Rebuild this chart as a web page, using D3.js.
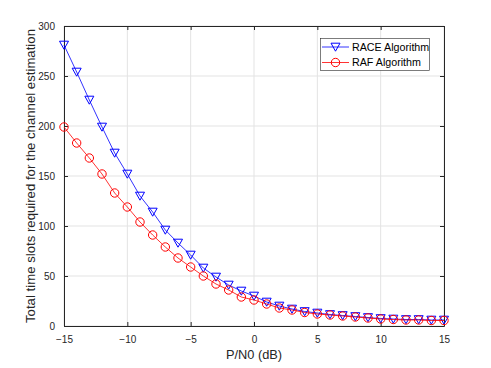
<!DOCTYPE html>
<html><head><meta charset="utf-8">
<script src="https://cdn.jsdelivr.net/npm/d3@7"></script>
<style>body{margin:0;background:#fff;}svg{display:block;font-family:"Liberation Sans",Arial,sans-serif;}</style>
</head><body>
<svg id="c" width="491" height="368"></svg>
<script>
const xValues = d3.range(-15, 16, 1);
const raceValues = [281,254,226,199,173,152,130,114,96,83,71,58,49,41,35,30,24,20,17,14.5,13,11.5,10.5,9.5,8.5,7.5,7,6.5,6.5,6,6];
const rafValues = [199,183,168,152,133,119,104,91,79,68,59,50,42,36,29,26,22,18,16,13.5,12,11,10,9,8,7,6.5,6,6,5.5,5.5];
const xTicks = [-15,-10,-5,0,5,10,15];
const yTicks = [0,50,100,150,200,250,300];
const seriesNames = ["RACE Algorithm","RAF Algorithm"];
const xLabel = "P/N0 (dB)";
const yLabel = "Total time slots required for the channel estimation";

const L=64, R=444, T=26, B=326;
const svg = d3.select("#c");
const x = d3.scaleLinear().domain([-15,15]).range([L,R]);
const y = d3.scaleLinear().domain([0,300]).range([B,T]);
const axisCol = "#262626";

// grid
const g = svg.append("g");
g.selectAll(".gx").data(xTicks).join("line").attr("x1",d=>x(d)).attr("x2",d=>x(d)).attr("y1",T).attr("y2",B).attr("stroke","#e3e3e3").attr("stroke-width",1);
g.selectAll(".gy").data(yTicks).join("line").attr("y1",d=>y(d)).attr("y2",d=>y(d)).attr("x1",L).attr("x2",R).attr("stroke","#e3e3e3").attr("stroke-width",1);

// axes
const tl = 4;
const xa = svg.append("g").attr("transform",`translate(0,${B})`).call(d3.axisBottom(x).tickValues(xTicks).tickSizeInner(-tl).tickSizeOuter(0).tickPadding(10));
const xa2 = svg.append("g").attr("transform",`translate(0,${T})`).call(d3.axisTop(x).tickValues(xTicks).tickSizeInner(-tl).tickSizeOuter(0).tickFormat(""));
const ya = svg.append("g").attr("transform",`translate(${L},0)`).call(d3.axisLeft(y).tickValues(yTicks).tickSizeInner(-tl).tickSizeOuter(0).tickPadding(9));
const ya2 = svg.append("g").attr("transform",`translate(${R},0)`).call(d3.axisRight(y).tickValues(yTicks).tickSizeInner(-tl).tickSizeOuter(0).tickFormat(""));
[xa,xa2,ya,ya2].forEach(a=>{
  a.select(".domain").attr("stroke",axisCol).attr("stroke-width",1);
  a.selectAll(".tick line").attr("stroke",axisCol);
  a.selectAll("text").attr("fill",axisCol).attr("font-size",10).attr("font-family","Liberation Sans, Arial, sans-serif");
});

// labels
svg.append("text").attr("x",(L+R)/2).attr("y",359).attr("text-anchor","middle").attr("font-size",12.8).attr("fill",axisCol).text(xLabel);
svg.append("text").attr("transform",`translate(35,${(T+B)/2}) rotate(-90)`).attr("text-anchor","middle").attr("font-size",13.2).attr("fill",axisCol).text(yLabel);

// series
const series = [
  {name:seriesNames[0], vals:raceValues, color:"#0000ff", marker:"tri"},
  {name:seriesNames[1], vals:rafValues, color:"#ff0000", marker:"circ"}
];
const line = d3.line().x(d=>x(d[0])).y(d=>y(d[1]));
function drawMarker(sel, type, color){
  if(type==="tri"){
    sel.append("path").attr("d","M-4.5,-3.8L4.5,-3.8L0,4.2Z").attr("fill","none").attr("stroke",color).attr("stroke-width",1);
  } else {
    sel.append("circle").attr("r",4.2).attr("fill","none").attr("stroke",color).attr("stroke-width",1);
  }
}
series.forEach(s=>{
  const pts = xValues.map((xv,i)=>[xv,s.vals[i]]);
  svg.append("path").datum(pts).attr("d",line).attr("fill","none").attr("stroke",s.color).attr("stroke-width",0.8);
  svg.append("g").selectAll("g").data(pts).join("g").attr("transform",d=>`translate(${x(d[0])},${y(d[1])})`).each(function(){drawMarker(d3.select(this),s.marker,s.color);});
});

// legend
const lg = svg.append("g");
lg.append("rect").attr("x",320.5).attr("y",38.5).attr("width",109).attr("height",32).attr("fill","#fff").attr("stroke","#262626").attr("stroke-width",0.6);
series.forEach((s,i)=>{
  const yy = 47 + i*15.5;
  lg.append("line").attr("x1",322).attr("x2",349).attr("y1",yy).attr("y2",yy).attr("stroke",s.color).attr("stroke-width",0.8);
  const m = lg.append("g").attr("transform",`translate(335.5,${yy})`);
  drawMarker(m,s.marker,s.color);
  lg.append("text").attr("x",352).attr("y",yy+3.8).attr("font-size",10.7).attr("fill","#000").text(s.name);
});
</script>
</body></html>
